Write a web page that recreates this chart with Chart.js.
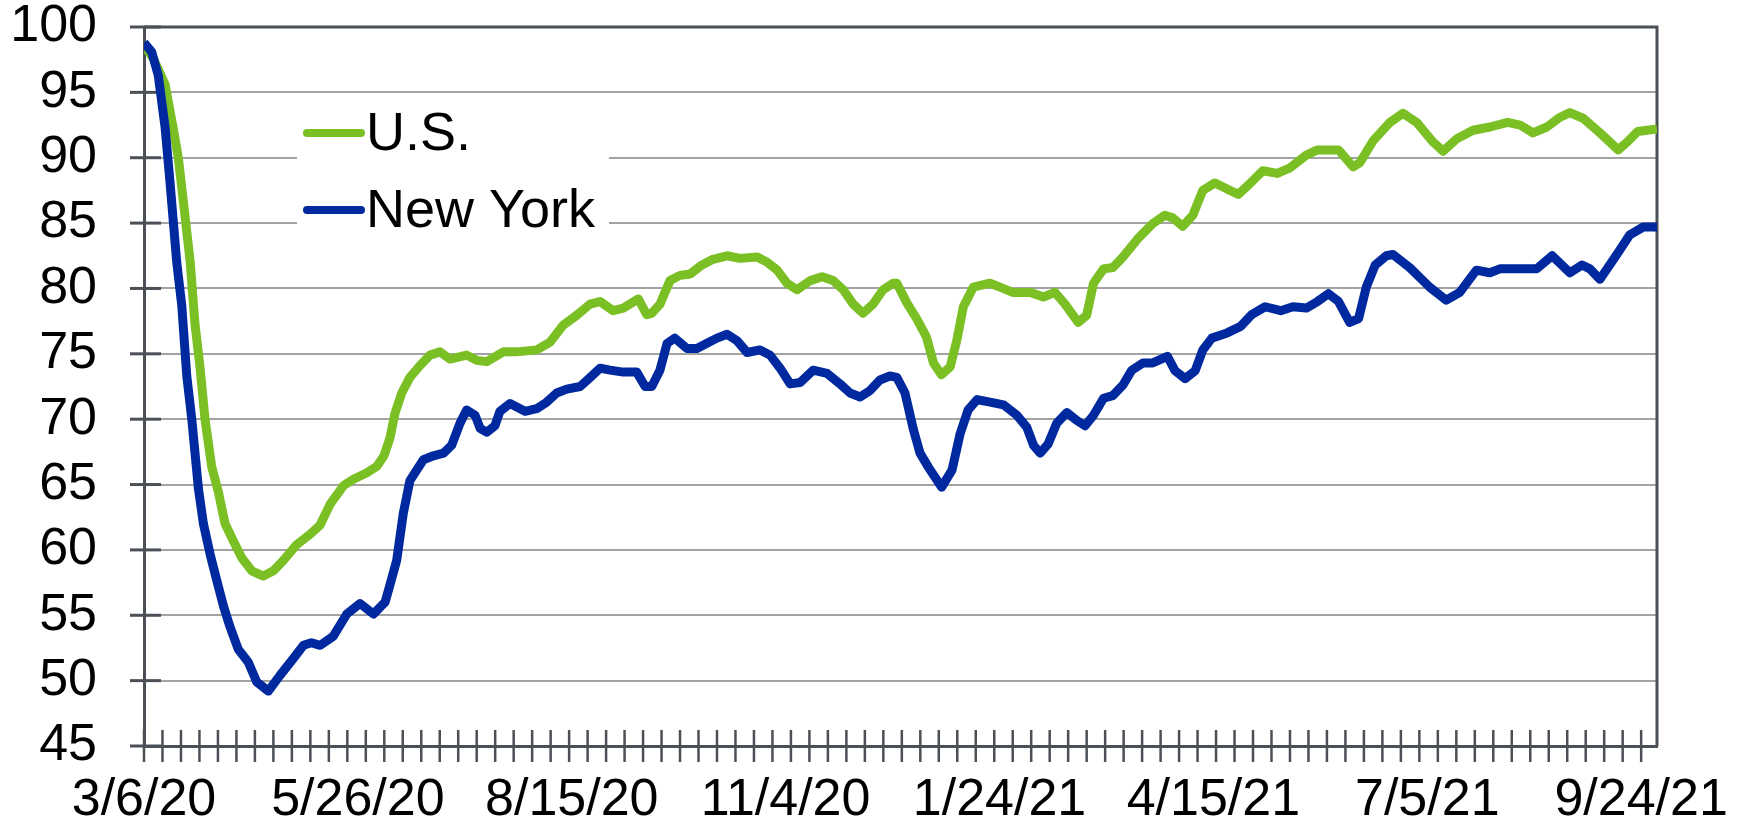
<!DOCTYPE html>
<html><head><meta charset="utf-8">
<script src="https://cdn.jsdelivr.net/npm/chart.js@4.4.1/dist/chart.umd.min.js"></script>
<style>html,body{margin:0;padding:0;background:#fff;} #wrap{width:1743px;height:831px;position:relative;}</style>
</head><body><div id="wrap"><canvas id="c" width="1743" height="831"></canvas></div>
<script>
// ---- data ----
const tickLabels = ['3/6/20','5/26/20','8/15/20','11/4/20','1/24/21','4/15/21','7/5/21','9/24/21'];
const seriesNames = ['U.S.', 'New York'];
const seriesColors = ['#7abf24', '#0029a0'];
const axisMaxDay = 573;           // last data day (axis end)
const minorTickDays = 7;          // weekly minor ticks
const yMin = 45, yMax = 100, yStep = 5;

const usDays = [0,3.5,8,11,13,15.5,17.5,19.3,21.2,23.1,25.6,28.2,30.7,33.8,37,40.8,45.2,49,52.8,57.8,62.9,66.7,70.5,75.5,79.3,84.4,88.2,90.9,93.2,95,97.6,100.7,104.5,108.3,112.1,115.9,122.2,126,129.8,136.1,141.2,148.7,153.8,158.8,163.9,168.9,172.7,177.7,181.5,187.2,190.4,192.3,195.4,199.2,203,206.8,211.3,215.1,220.8,225.7,232.2,236,239.8,243.5,247.3,252.3,256.8,261,264.8,268.6,272.3,276.1,279.9,283.7,285.1,288.9,292.6,296.3,299,302,305.3,307.8,310.3,314.1,320.4,324.2,329,335.6,340.6,345,348.8,353.8,357,359.6,363.4,366.9,370.7,376.8,382,386.6,389.6,393.4,397.2,401,405.6,410.2,414.5,418.7,423.7,429.2,433.8,440.2,444.4,452.4,457.9,460.4,465.5,471.8,476.8,482,488.2,492,497.2,503.3,509.8,516.4,521.2,526,531.3,536.3,540,545.2,551.4,558.3,561.7,565.6,573];
const usValues = [98.6,97.6,95.6,92.3,90.0,85.6,82.0,77.3,74.0,70.0,66.4,64.4,62.0,60.7,59.4,58.4,58.0,58.4,59.2,60.4,61.2,61.9,63.5,64.9,65.4,65.9,66.4,67.2,68.6,70.4,72.0,73.2,74.1,74.9,75.15,74.6,74.9,74.5,74.4,75.15,75.15,75.3,75.9,77.2,77.95,78.8,79.0,78.3,78.5,79.2,78.0,78.1,78.8,80.6,81.0,81.1,81.8,82.2,82.5,82.3,82.4,82.0,81.4,80.4,79.9,80.6,80.9,80.6,79.9,78.8,78.1,78.8,79.9,80.4,80.4,78.9,77.7,76.3,74.3,73.4,74.0,76.0,78.6,80.1,80.4,80.1,79.7,79.7,79.35,79.7,78.8,77.4,77.95,80.4,81.5,81.6,82.4,83.9,84.96,85.6,85.4,84.75,85.6,87.5,88.07,87.6,87.2,88.0,89.0,88.8,89.2,90.2,90.6,90.6,89.3,89.6,91.3,92.7,93.4,92.7,91.2,90.5,91.45,92.1,92.35,92.7,92.5,91.9,92.35,93.1,93.45,93.0,91.9,90.6,91.2,92.0,92.2];

const nyDays = [0,2.9,5.4,8,9.9,12.4,14.3,16.2,18.1,20.6,22.5,25,27.5,30.1,32.6,35.7,39.5,42.7,47.1,51.5,56.6,60.4,63.4,66.7,71.7,76.8,81.8,86.9,91.3,93.4,95.7,98.2,100.7,105.8,109.6,113.4,116.5,119.7,122.2,125.4,127.3,129.8,132.9,134.8,138.6,144.3,148.7,152.5,156.3,160.1,165.2,169,172.7,176.5,181.5,186.6,189.8,192.3,195.4,198.1,201,205.7,209.4,213.2,217,220.8,224.6,228.4,233.3,237.1,240.9,244.7,248.5,253.4,258.7,263.6,267.4,271.2,275,278.7,282.5,285.1,288.2,291.4,293.9,297,302.1,306,309.1,312.1,315.5,320.4,325.5,330.6,334.3,336.9,339.4,342.4,345.7,349.5,353.3,356.4,359.6,363.4,366.9,370.7,374.1,378.3,382,387.6,390.5,394.3,398.1,401,404.4,410.2,415.3,419.5,424.6,430.5,435.1,440.2,444.4,448.6,452.4,456.6,460,462.9,466.3,470.5,473,479.3,486.9,493.2,498.3,504.6,509.7,513.5,527.4,533.3,540,544.6,547.6,551.4,558.1,562.7,567.8,573];
const nyValues = [98.8,98.1,96.3,92.3,88.0,82.0,78.7,73.3,70.0,64.7,62.0,59.7,57.7,55.7,54.1,52.4,51.4,49.9,49.2,50.4,51.7,52.7,52.9,52.7,53.4,55.1,55.9,55.1,56.0,57.5,59.2,62.8,65.3,66.9,67.2,67.4,68.0,69.7,70.7,70.3,69.3,69.0,69.5,70.6,71.2,70.6,70.8,71.3,72.0,72.3,72.5,73.2,73.9,73.75,73.6,73.6,72.5,72.5,73.75,75.8,76.2,75.4,75.4,75.8,76.2,76.5,76.0,75.1,75.3,74.9,73.9,72.7,72.8,73.75,73.5,72.7,72.0,71.7,72.2,73.0,73.3,73.2,72.0,69.2,67.4,66.35,64.8,66.1,68.9,70.7,71.5,71.3,71.1,70.3,69.4,68.0,67.4,68.1,69.7,70.5,69.9,69.5,70.3,71.6,71.8,72.6,73.75,74.3,74.3,74.8,73.7,73.1,73.7,75.3,76.2,76.6,77.1,78.0,78.6,78.3,78.6,78.5,79.0,79.6,79.0,77.4,77.7,80.1,81.8,82.5,82.6,81.6,80.1,79.1,79.7,81.4,81.2,81.5,81.5,82.5,81.2,81.8,81.5,80.7,82.7,84.1,84.7,84.7];

// ---- helpers ----
function parseMDY(s){ const [m,d,y] = s.split('/').map(Number); return Date.UTC(2000+y, m-1, d); }
const day0 = parseMDY(tickLabels[0]);
const tickDays = tickLabels.map(s => Math.round((parseMDY(s) - day0) / 86400000));
const labelByDay = {}; tickDays.forEach((d,i) => labelByDay[d] = tickLabels[i]);
const toXY = (xs, ys) => xs.map((x,i) => ({x, y: ys[i]}));

const FONT = '"Liberation Sans", Arial, sans-serif';
const AXIS = '#4b5056';
const NONE = 'rgba(0,0,0,0)';

const decor = {
  id: 'decor',
  beforeDatasetsDraw(chart){
    const ctx = chart.ctx, a = chart.chartArea, xs = chart.scales.x, ys = chart.scales.y;
    ctx.save();
    // plot border (top & right)
    ctx.strokeStyle = AXIS; ctx.lineWidth = 3;
    ctx.beginPath();
    ctx.moveTo(a.left, a.top); ctx.lineTo(a.right, a.top); ctx.lineTo(a.right, a.bottom);
    ctx.stroke();
    // crossing tick marks on y axis
    for (let v = yMin; v <= yMax; v += yStep){
      const y = ys.getPixelForValue(v);
      ctx.beginPath(); ctx.moveTo(a.left - 14, y); ctx.lineTo(a.left + 17, y); ctx.stroke();
    }
    // weekly crossing tick marks on x axis
    ctx.lineWidth = 2.5;
    for (let d = 0; d <= axisMaxDay; d += minorTickDays){
      const x = xs.getPixelForValue(d);
      ctx.beginPath(); ctx.moveTo(x, a.bottom - 16); ctx.lineTo(x, a.bottom + 16); ctx.stroke();
    }
    // legend box
    ctx.fillStyle = '#fff';
    ctx.fillRect(297, 100, 312, 150);
    const rows = [133, 210];
    ctx.font = '54px ' + FONT;
    ctx.textBaseline = 'middle';
    ctx.lineCap = 'round';
    chart.data.datasets.slice().sort((p,q)=>seriesNames.indexOf(p.label)-seriesNames.indexOf(q.label)).forEach((ds, i) => {
      const y = rows[i];
      ctx.strokeStyle = ds.borderColor; ctx.lineWidth = 8;
      ctx.beginPath(); ctx.moveTo(307, y); ctx.lineTo(361, y); ctx.stroke();
      ctx.fillStyle = '#000';
      ctx.fillText(ds.label, 366, y + 2);
    });
    ctx.restore();
  }
};

new Chart(document.getElementById('c'), {
  type: 'line',
  data: {
    datasets: [
      { label: seriesNames[1], data: toXY(nyDays, nyValues), borderColor: seriesColors[1], order: 0 },
      { label: seriesNames[0], data: toXY(usDays, usValues), borderColor: seriesColors[0], order: 1 }
    ]
  },
  options: {
    responsive: false,
    animation: false,
    devicePixelRatio: 1,
    elements: {
      line: { borderWidth: 9, tension: 0, borderJoinStyle: 'round', borderCapStyle: 'butt', fill: false },
      point: { radius: 0, hoverRadius: 0 }
    },
    layout: { padding: { top: 27, right: 86, left: 0, bottom: 0 } },
    plugins: { legend: { display: false }, tooltip: { enabled: false } },
    scales: {
      x: {
        type: 'linear', min: 0, max: axisMaxDay,
        grid: { display: true, drawOnChartArea: false, drawTicks: true, tickLength: 29, tickColor: NONE, color: NONE },
        border: { display: true, color: AXIS, width: 3 },
        afterBuildTicks: s => { s.ticks = tickDays.map(v => ({ value: v })); },
        afterFit: s => { s.height = 85; },
        ticks: {
          autoSkip: false, maxRotation: 0, minRotation: 0, padding: 0,
          color: '#000', font: { family: FONT, size: 52, lineHeight: 1 },
          callback: v => labelByDay[v] ?? ''
        }
      },
      y: {
        min: yMin, max: yMax,
        grid: { color: '#a3a3a3', lineWidth: 2, drawTicks: true, tickLength: 47, tickColor: NONE },
        border: { display: true, color: AXIS, width: 3 },
        afterFit: s => { s.width = 144; },
        ticks: { stepSize: yStep, autoSkip: false, padding: 0, color: '#000', font: { family: FONT, size: 52, lineHeight: 1 } }
      }
    }
  },
  plugins: [decor]
});
</script>
</body></html>
